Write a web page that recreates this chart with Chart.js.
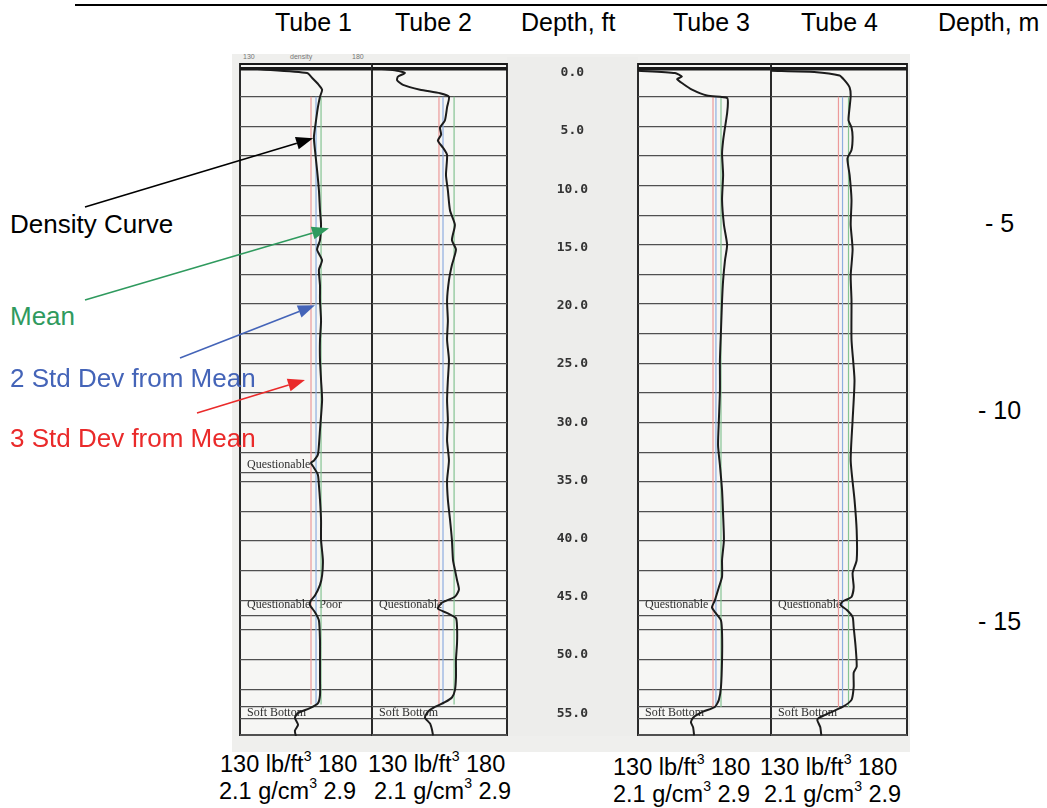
<!DOCTYPE html>
<html>
<head>
<meta charset="utf-8">
<script src="https://cdn.jsdelivr.net/npm/chart.js@4.4.0/dist/chart.umd.min.js"></script>
<style>
  body { margin: 0; width: 1047px; height: 808px; position: relative; overflow: hidden; background: #fff;
         font-family: "Liberation Sans", Arial, sans-serif; color: #000; }
  .abs { position: absolute; white-space: nowrap; }
  .hdr { top: 8px; font-size: 25px; line-height: 28px; }
  .lbl { font-size: 26px; line-height: 30px; }
  .bot { font-size: 23.5px; line-height: 27px; }
  sup { font-size: 60%; line-height: 0; vertical-align: 0.75em; }
  canvas { position: absolute; }
</style>
</head>
<body>
<div class="abs" style="left:75px;top:4px;width:972px;height:2px;background:#000"></div>
<div class="abs hdr" style="left:275px">Tube 1</div>
<div class="abs hdr" style="left:395px">Tube 2</div>
<div class="abs hdr" style="left:521px">Depth, ft</div>
<div class="abs hdr" style="left:673px">Tube 3</div>
<div class="abs hdr" style="left:801px">Tube 4</div>
<div class="abs hdr" style="left:938px">Depth, m</div>

<!-- scanned sheet backgrounds -->
<div class="abs" style="left:232px;top:54px;width:678px;height:698px;background:#efefed"></div>
<div class="abs" style="left:240px;top:63px;width:267px;height:673px;background:#f6f6f4"></div>
<div class="abs" style="left:507px;top:57px;width:131px;height:679px;background:#ededeb"></div>
<div class="abs" style="left:638px;top:63px;width:269px;height:673px;background:#f6f6f4"></div>
<div class="abs" style="left:243px;top:53px;font-size:7px;color:#777">130</div>
<div class="abs" style="left:290px;top:53px;font-size:7px;color:#777">density</div>
<div class="abs" style="left:352px;top:53px;font-size:7px;color:#777">180</div>

<canvas id="tube1" width="136" height="677" style="left:238px;top:61px"></canvas>
<canvas id="tube2" width="139" height="677" style="left:370px;top:61px"></canvas>
<canvas id="depthCol" width="127" height="677" style="left:509px;top:61px"></canvas>
<canvas id="tube3" width="137" height="677" style="left:636px;top:61px"></canvas>
<canvas id="tube4" width="140" height="677" style="left:769px;top:61px"></canvas>

<div class="abs lbl" style="left:10px;top:209px">Density Curve</div>
<div class="abs lbl" style="left:10px;top:301px;color:#2f9a5e">Mean</div>
<div class="abs lbl" style="left:10px;top:363px;color:#4464b8">2 Std Dev from Mean</div>
<div class="abs lbl" style="left:10px;top:423px;color:#ea2a2a">3 Std Dev from Mean</div>

<div class="abs hdr" style="left:985px;top:209px">- 5</div>
<div class="abs hdr" style="left:978px;top:396px">- 10</div>
<div class="abs hdr" style="left:978px;top:607px">- 15</div>

<div class="abs bot" style="left:220px;top:751px">130 lb/ft<sup>3</sup> 180</div>
<div class="abs bot" style="left:219px;top:778px">2.1 g/cm<sup>3</sup> 2.9</div>
<div class="abs bot" style="left:368px;top:751px">130 lb/ft<sup>3</sup> 180</div>
<div class="abs bot" style="left:374px;top:778px">2.1 g/cm<sup>3</sup> 2.9</div>
<div class="abs bot" style="left:613px;top:754px">130 lb/ft<sup>3</sup> 180</div>
<div class="abs bot" style="left:613px;top:781px">2.1 g/cm<sup>3</sup> 2.9</div>
<div class="abs bot" style="left:760px;top:754px">130 lb/ft<sup>3</sup> 180</div>
<div class="abs bot" style="left:764px;top:781px">2.1 g/cm<sup>3</sup> 2.9</div>

<canvas id="arrows" width="1047" height="808" style="left:0;top:0;pointer-events:none"></canvas>

<script>
// depth in ft, density in lb/ft3
const depthTicks = [0, 5, 10, 15, 20, 25, 30, 35, 40, 45, 50, 55];
const gridDepths = [2.5, 5, 7.5, 10, 12.5, 15, 17.5, 20, 22.5, 25, 27.5, 30, 32.5, 35, 37.5, 40,
                    42.5, 45, 47.5, 50, 52.5, 55];
const noteLines = [46.3, 54.0];

const tube1Depth = [0.1,0.2,0.5,0.9,1.4,1.9,2.5,3.4,4.5,5.9,7.0,8.7,10.4,12.1,13.3,14.6,15.4,16.3,17.1,18.4,
  19.7,21.4,23.0,24.7,26.4,28.1,30.6,31.9,32.7,33.2,33.4,33.8,34.4,35.3,36.5,38.2,39.9,41.6,42.9,43.7,
  44.6,45.0,45.4,46.0,46.7,48.4,50.0,51.7,53.0,53.7,54.1,54.5,54.9,55.5,56.0,56.5];
const tube1Density = [130.4,138.7,155.4,157.3,159.5,161.1,160.3,159.5,158.8,158.0,158.4,159.2,159.9,160.3,160.7,160.3,
  159.2,161.1,159.9,160.3,160.3,160.7,160.3,160.3,160.7,161.1,160.3,159.9,159.5,158.0,156.9,158.0,159.5,159.9,160.3,
  160.7,160.7,161.4,161.1,160.3,158.4,156.9,156.5,158.4,159.9,160.3,160.3,160.3,160.3,159.5,156.5,152.0,150.8,152.0,
  150.8,151.2];

const tube2Depth = [0.1,0.3,0.5,0.8,1.1,1.5,1.9,2.2,2.5,3.4,4.5,5.1,5.7,6.2,6.8,7.4,9.1,10.4,12.1,13.3,
  14.6,15.4,16.7,18.0,19.7,21.4,23.0,24.7,26.4,28.1,29.8,31.5,33.2,34.9,36.5,38.2,39.9,41.6,42.4,43.3,
  44.1,44.7,45.2,45.7,46.1,46.5,47.3,48.6,50.0,51.5,52.6,53.2,53.6,54.0,54.4,54.9,55.4,55.9,56.4];
const tube2Density = [130.0,139.3,142.2,139.6,139.3,141.5,147.8,155.2,158.5,157.8,157.0,155.2,155.6,154.4,156.3,157.8,
  157.4,158.1,158.9,160.7,159.6,161.1,159.6,158.5,157.8,158.1,157.8,158.5,158.1,157.8,158.1,157.8,158.5,157.8,158.1,
  158.9,159.6,160.0,160.7,161.5,162.2,160.7,155.9,154.4,158.1,161.1,161.5,161.5,161.1,161.1,160.7,159.6,157.0,153.3,
  150.7,149.6,151.5,152.2,152.6];

const tube3Depth = [0.3,0.5,0.8,1.0,1.4,1.9,2.4,2.6,3.0,3.9,5.1,6.2,7.3,9.1,11.2,13.3,15.0,16.3,18.0,19.7,
  22.2,24.7,27.3,29.8,31.9,33.6,35.7,37.8,39.9,41.6,43.0,43.9,45.0,45.6,46.1,46.7,47.8,50.0,52.3,53.4,
  54.0,54.4,54.9,55.3,55.7,56.4];
const tube3Density = [130.0,143.9,146.5,144.7,146.9,150.3,155.9,163.5,163.8,163.5,162.7,162.0,161.6,162.0,161.6,162.3,
  163.5,162.7,162.0,161.6,161.2,160.8,160.8,160.4,160.1,160.8,161.6,162.0,162.3,161.6,161.6,160.4,158.9,157.8,159.3,
  161.2,161.6,161.6,161.2,160.4,158.9,154.4,150.7,149.9,150.7,151.1];

const tube4Depth = [0.3,0.4,0.7,1.1,1.7,2.4,3.4,4.5,5.1,5.9,7.0,7.7,9.1,11.2,13.3,15.4,17.6,19.7,23.0,26.4,
  29.8,33.2,36.5,39.1,41.6,42.7,43.9,44.7,45.1,45.4,45.8,46.4,47.3,48.9,50.6,51.1,52.3,53.4,54.0,54.5,
  54.9,55.1,55.7,56.4];
const tube4Density = [130.0,145.9,155.2,157.0,158.9,159.3,158.9,158.5,159.6,160.0,159.6,158.1,158.9,159.6,159.3,160.0,
  159.3,159.6,159.6,160.7,160.0,159.3,160.7,161.5,161.5,160.0,160.4,159.6,156.3,155.6,157.8,160.0,160.4,161.1,161.5,
  160.4,160.4,159.6,156.3,151.5,147.8,147.0,148.1,148.5];

const meanDensity = [160.7, 160.4, 161.2, 158.5];
const sd2Density  = [158.8, 156.3, 159.3, 156.3];
const sd3Density  = [156.9, 154.8, 158.2, 154.8];
const statTopDepth = [2.5, 2.5, 2.5, 2.5];
const statBottomDepth = [53.8, 53.8, 54.0, 54.0];

const tube1Notes = [[33.6, 'Questionable'], [45.4, 'Questionable   Poor'], [54.5, 'Soft Bottom']];
const otherNotes = [[45.4, 'Questionable'], [54.5, 'Soft Bottom']];

// arrow tips on tube 1: [density, depth]
const arrowTips = [[157.7, 6.0], [163.7, 13.6], [158.4, 20.1], [154.6, 26.4]];

const notesPlugin = {
  id: 'notes',
  beforeDatasetsDraw(chart, args, opts) {
    const ctx = chart.ctx;
    ctx.save();
    ctx.font = '12px "Liberation Serif", "DejaVu Serif", serif';
    ctx.fillStyle = '#2e2e2e';
    ctx.textBaseline = 'middle';
    opts.items.forEach(([d, t]) => {
      ctx.fillText(t, chart.chartArea.left + 7, chart.scales.y.getPixelForValue(d));
    });
    ctx.restore();
  }
};

function tubeChart(id, depth, dens, i, notes, extra) {
  const curve = depth.map((d, k) => ({ x: dens[k], y: d }));
  const vline = v => [{ x: v, y: statTopDepth[i] }, { x: v, y: statBottomDepth[i] }];
  const lines = [-0.25, 0.1].concat(gridDepths, extra, [56.4]);
  const stat = (v, c) => ({ data: vline(v), showLine: true, borderColor: c, borderWidth: 1.2,
                             pointRadius: 0, order: 1 });
  return new Chart(document.getElementById(id), {
    type: 'scatter',
    data: {
      datasets: [
        { data: curve, showLine: true, borderColor: '#1c1c1c', borderWidth: 2, pointRadius: 0,
          tension: 0.2, order: 0 },
        stat(meanDensity[i], '#86c493'),
        stat(sd2Density[i], '#8faee0'),
        stat(sd3Density[i], '#ec9a9a')
      ]
    },
    options: {
      animation: false,
      responsive: false,
      devicePixelRatio: 1,
      layout: { padding: 2 },
      plugins: { legend: { display: false }, tooltip: { enabled: false }, notes: { items: notes } },
      scales: {
        x: {
          type: 'linear', min: 130, max: 180,
          ticks: { display: false }, border: { display: false },
          grid: { drawTicks: false, color: '#2a2a2a', lineWidth: 2 },
          afterBuildTicks: s => { s.ticks = [{ value: 130 }, { value: 180 }]; },
          afterFit: s => { s.height = 0; }
        },
        y: {
          type: 'linear', reverse: true, min: -0.35, max: 56.45,
          ticks: { display: false }, border: { display: false },
          grid: {
            drawTicks: false,
            color: c => c.tick && c.tick.value < 1 ? '#1a1a1a' : '#505050',
            lineWidth: c => {
              const v = c.tick ? c.tick.value : 0;
              return v < 0 ? 2 : v < 1 ? 3.5 : v > 56 ? 2 : 1.3;
            }
          },
          afterBuildTicks: s => { s.ticks = lines.map(v => ({ value: v })); },
          afterFit: s => { s.width = 0; }
        }
      }
    },
    plugins: [notesPlugin]
  });
}

const c1 = tubeChart('tube1', tube1Depth, tube1Density, 0, tube1Notes, noteLines.concat([34.2]));
tubeChart('tube2', tube2Depth, tube2Density, 1, otherNotes, noteLines);
tubeChart('tube3', tube3Depth, tube3Density, 2, otherNotes, noteLines);
tubeChart('tube4', tube4Depth, tube4Density, 3, otherNotes, noteLines);

new Chart(document.getElementById('depthCol'), {
  type: 'scatter',
  data: { datasets: [] },
  options: {
    animation: false,
    responsive: false,
    devicePixelRatio: 1,
    layout: { padding: { top: 2, bottom: 2, left: 0, right: 0 } },
    plugins: { legend: { display: false }, tooltip: { enabled: false } },
    scales: {
      x: { display: false, min: 0, max: 1 },
      y: {
        type: 'linear', reverse: true, min: -0.35, max: 56.45, position: 'left',
        grid: { display: false, drawTicks: false }, border: { display: false },
        ticks: {
          crossAlign: 'center', padding: 0, color: '#333',
          font: { family: '"DejaVu Sans Mono", monospace', size: 13, weight: 'bold' },
          callback: v => Number(v).toFixed(1)
        },
        afterBuildTicks: s => { s.ticks = depthTicks.map(v => ({ value: v })); },
        afterFit: s => { s.width = 79; }
      }
    }
  }
});

// annotation arrows pointing into tube 1
const arrowFrom = [[85, 207], [85, 300], [180, 358], [197, 413]];
const arrowColors = ['#000000', '#2f9a5e', '#4464b8', '#ea2a2a'];
const actx = document.getElementById('arrows').getContext('2d');
const cv1 = document.getElementById('tube1');
arrowTips.forEach(([v, d], k) => {
  const tx = cv1.offsetLeft + c1.scales.x.getPixelForValue(v);
  const ty = cv1.offsetTop + c1.scales.y.getPixelForValue(d);
  const [fx, fy] = arrowFrom[k];
  const ang = Math.atan2(ty - fy, tx - fx);
  const len = 17, hw = 6.5;
  const bx = tx - len * Math.cos(ang), by = ty - len * Math.sin(ang);
  actx.strokeStyle = arrowColors[k];
  actx.fillStyle = arrowColors[k];
  actx.lineWidth = 1.6;
  actx.beginPath();
  actx.moveTo(fx, fy);
  actx.lineTo(bx, by);
  actx.stroke();
  actx.beginPath();
  actx.moveTo(tx, ty);
  actx.lineTo(bx + hw * Math.sin(ang), by - hw * Math.cos(ang));
  actx.lineTo(bx - hw * Math.sin(ang), by + hw * Math.cos(ang));
  actx.closePath();
  actx.fill();
});
</script>
</body>
</html>
